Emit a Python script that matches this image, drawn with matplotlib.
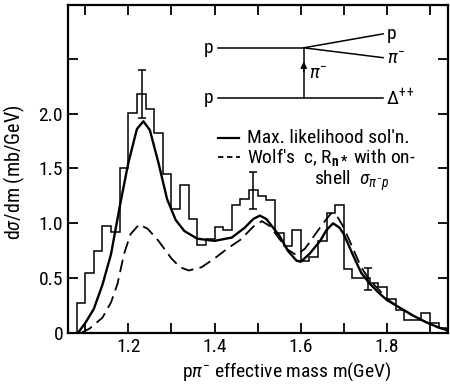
import numpy as np
import matplotlib
matplotlib.use("Agg")
import matplotlib.pyplot as plt

fam = ['Roboto Condensed', 'Sofia Sans Semi Condensed', 'Liberation Sans', 'DejaVu Sans']
plt.rcParams['font.family'] = fam
plt.rcParams['mathtext.fontset'] = 'custom'
plt.rcParams['mathtext.rm'] = 'Roboto Condensed'
plt.rcParams['mathtext.it'] = 'Roboto Condensed:italic'
plt.rcParams['mathtext.bf'] = 'Roboto Condensed:bold'

# histogram: left bin edges (GeV), bin width 0.02, heights (mb/GeV)
bin_left = np.round(np.arange(1.08, 1.935, 0.02), 2)
hist_vals = [0.27, 0.55, 0.75, 0.98, 0.92, 1.50, 2.01, 2.18, 2.04, 1.82,
             1.45, 1.13, 1.35, 1.04, 0.80, 0.86, 0.97, 0.94, 1.17, 1.22,
             1.30, 1.25, 1.21, 0.91, 0.79, 0.94, 0.66, 0.69, 0.84, 1.09,
             1.17, 0.58, 0.50, 0.50, 0.46, 0.42, 0.31, 0.21, 0.12, 0.12,
             0.18, 0.09, 0.05]

# error bars
err_x = [1.232, 1.49, 1.755]
err_y = [2.18, 1.30, 0.49]
err_e = [0.22, 0.17, 0.10]

# max likelihood solution (solid)
ml_m = [1.083, 1.10, 1.12, 1.14, 1.16, 1.18, 1.20, 1.22, 1.235, 1.25,
        1.27, 1.29, 1.31, 1.33, 1.36, 1.40, 1.44, 1.47, 1.49, 1.505,
        1.52, 1.55, 1.57, 1.59, 1.60, 1.62, 1.645, 1.66, 1.675, 1.69,
        1.70, 1.72, 1.74, 1.76, 1.78, 1.80, 1.83, 1.86, 1.89, 1.92, 1.945]
ml_v = [0.00, 0.09, 0.22, 0.44, 0.72, 1.15, 1.55, 1.86, 1.93, 1.85,
        1.55, 1.22, 1.03, 0.93, 0.86, 0.84, 0.87, 0.96, 1.04, 1.07,
        1.04, 0.89, 0.75, 0.66, 0.65, 0.72, 0.84, 0.94, 1.00, 0.96,
        0.90, 0.72, 0.55, 0.45, 0.37, 0.30, 0.23, 0.16, 0.10, 0.05, 0.02]

# Wolf's c, R with on-shell sigma (dashed)
wolf_m = [1.09, 1.11, 1.14, 1.16, 1.175, 1.19, 1.205, 1.225, 1.245, 1.27,
          1.30, 1.32, 1.34, 1.37, 1.40, 1.43, 1.46, 1.49, 1.51, 1.53,
          1.55, 1.57, 1.59, 1.61, 1.63, 1.65, 1.67, 1.685, 1.70, 1.72,
          1.74, 1.76, 1.78, 1.80, 1.83, 1.86, 1.89, 1.92, 1.945]
wolf_v = [0.00, 0.04, 0.14, 0.28, 0.45, 0.72, 0.90, 0.99, 0.95, 0.84,
          0.68, 0.60, 0.57, 0.60, 0.68, 0.77, 0.85, 0.97, 1.02, 0.97,
          0.86, 0.76, 0.71, 0.77, 0.88, 0.99, 1.09, 1.06, 0.96, 0.78,
          0.60, 0.48, 0.40, 0.31, 0.23, 0.16, 0.10, 0.05, 0.02]

xticks = [1.2, 1.4, 1.6, 1.8]
xminor = [1.1, 1.3, 1.5, 1.7, 1.9]
yticks = [0, 0.5, 1.0, 1.5, 2.0, 2.5]
ylabels = ['0', '0.5', '1.0', '1.5', '2.0', '']

fig = plt.figure(figsize=(4.5, 3.85), dpi=100)
ax = fig.add_axes([0.151, 0.135, 0.845, 0.852])

edges = list(bin_left) + [round(bin_left[-1] + 0.02, 2)]
ax.stairs(hist_vals, edges, color='black', lw=1.1)
ax.errorbar(err_x, err_y, yerr=err_e, fmt='none', ecolor='black', elinewidth=1.1, capsize=3, capthick=1.1)
ax.plot(ml_m, ml_v, color='black', lw=1.7)
ax.plot(wolf_m, wolf_v, color='black', lw=1.3, dashes=(7, 3.5))

ax.set_xlim(1.06, 1.942)
ax.set_ylim(0, 2.99)
ax.set_xticks(xticks)
ax.set_xticklabels([str(t) for t in xticks])
ax.set_xticks(xminor, minor=True)
ax.set_yticks(yticks)
ax.set_yticklabels(ylabels)
ax.tick_params(which='both', direction='in', top=True, right=True, width=1.3, labelsize=14)
ax.tick_params(which='major', length=7)
ax.tick_params(which='minor', length=7)
for s in ax.spines.values():
    s.set_linewidth(1.6)

ax.set_ylabel('d$\\sigma$/dm (mb/GeV)', fontsize=14.5)
ax.yaxis.set_label_coords(-0.108, 0.49)
ax.set_xlabel('p$\\pi^{-}$ effective mass m(GeV)', fontsize=14)
ax.xaxis.set_label_coords(0.575, -0.085)

# Feynman diagram inset
kw = dict(color='black', lw=1.1)
ax.plot([1.409, 1.607], [2.60, 2.60], **kw)
ax.plot([1.607, 1.791], [2.60, 2.727], **kw)
ax.plot([1.607, 1.791], [2.60, 2.51], **kw)
ax.plot([1.607, 1.607], [2.60, 2.14], **kw)
ax.plot([1.409, 1.791], [2.14, 2.14], **kw)
ax.annotate('', xy=(1.607, 2.50), xytext=(1.607, 2.36),
            arrowprops=dict(arrowstyle='-|>', color='black', lw=1.1, mutation_scale=9))
ts = 14
ax.text(1.398, 2.60, 'p', fontsize=ts, ha='right', va='center')
ax.text(1.398, 2.14, 'p', fontsize=ts, ha='right', va='center')
ax.text(1.800, 2.73, 'p', fontsize=ts, ha='left', va='center')
ax.text(1.800, 2.50, '$\\pi^{-}$', fontsize=ts, ha='left', va='center')
ax.text(1.618, 2.36, '$\\pi^{-}$', fontsize=ts, ha='left', va='center')
ax.text(1.797, 2.14, '$\\Delta^{++}$', fontsize=ts, ha='left', va='center')

# legend
ls = 14
ax.plot([1.407, 1.456], [1.78, 1.78], color='black', lw=1.6)
ax.plot([1.407, 1.458], [1.60, 1.60], color='black', lw=1.3, dashes=(3, 2))
ax.text(1.475, 1.78, "Max. likelihood sol'n.", fontsize=ls, ha='left', va='center')
ax.text(1.475, 1.60, "Wolf's  c, R$_{\\mathbf{n*}}$ with on-", fontsize=ls, ha='left', va='center')
ax.text(1.630, 1.39, 'shell  $\\sigma_{\\pi^{-}p}$', fontsize=ls, ha='left', va='center')

fig.savefig('out.png', dpi=100)
